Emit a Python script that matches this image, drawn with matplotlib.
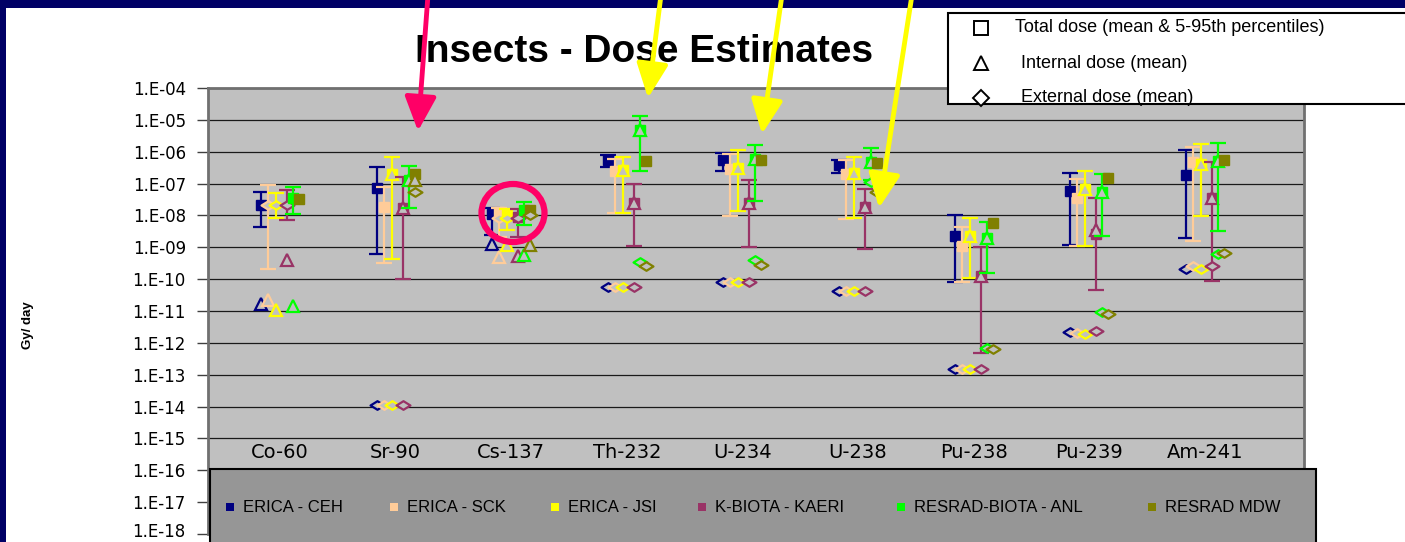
import numpy as np
import matplotlib
matplotlib.use("Agg")
import matplotlib.pyplot as plt
from matplotlib.patches import Rectangle, Ellipse, FancyArrowPatch
from matplotlib.lines import Line2D
from matplotlib.path import Path
from matplotlib.ticker import FixedLocator, FuncFormatter, NullLocator
from matplotlib.transforms import ScaledTranslation

nan = np.nan

nuclides = ["Co-60", "Sr-90", "Cs-137", "Th-232", "U-234", "U-238", "Pu-238", "Pu-239", "Am-241"]
models = ["ERICA - CEH", "ERICA - SCK", "ERICA - JSI", "K-BIOTA - KAERI",
          "RESRAD-BIOTA - ANL", "RESRAD MDW"]
colors = ["#000080", "#ffcc99", "#ffff00", "#993366", "#00ff00", "#808000"]

# Dose rates in Gy/day, one value per nuclide (nan = not shown)
total_ceh = [2.2e-8, 7.1e-8, 1.1e-8, 5.5e-7, 5.5e-7, 3.8e-7, 2.3e-9, 5.9e-8, 1.9e-7]
p05_ceh = [4.4e-9, 6.2e-10, 2.4e-9, 3.2e-7, 2.4e-7, 2.2e-7, 8e-11, 1.2e-9, 1.9e-9]
p95_ceh = [5.3e-8, 3.2e-7, 1.75e-8, 7.9e-7, 9.3e-7, 5.4e-7, 1e-8, 2.2e-7, 1.1e-6]
internal_ceh = [1.7e-11, nan, 1.25e-9, nan, nan, nan, nan, nan, nan]
external_ceh = [nan, 1.1e-14, nan, 5.8e-11, 8.3e-11, 4.3e-11, 1.5e-13, 2.2e-12, 2.1e-10]

total_sck = [nan, 1.9e-8, 1.3e-8, 2.5e-7, 2.8e-7, 1.95e-7, 1.1e-9, 3.6e-8, 4.9e-7]
p05_sck = [2.1e-10, 3.3e-10, 2.15e-9, 1.2e-8, 9.6e-9, 7.6e-9, 8e-11, 1.1e-9, 1.6e-9]
p95_sck = [9.1e-8, 7.6e-8, 1.75e-8, 6e-7, 8.5e-7, 5.5e-7, 4.2e-9, 1.35e-7, 1.4e-6]
internal_sck = [2.2e-11, nan, 5e-10, nan, nan, nan, nan, nan, nan]
external_sck = [2.2e-8, 1.1e-14, 8.5e-9, 5.8e-11, 8.3e-11, 4.3e-11, 1.5e-13, 2.0e-12, 2.5e-10]

total_jsi = [nan, 2e-7, 1e-8, 2.7e-7, 3e-7, 2.1e-7, 2.3e-9, 7e-8, 4.1e-7]
p05_jsi = [8.1e-9, 4.2e-10, 3.5e-9, 1.2e-8, 1.4e-8, 8.1e-9, 1.1e-10, 1.1e-9, 9.8e-9]
p95_jsi = [5e-8, 6.9e-7, 1.6e-8, 6.6e-7, 1.1e-6, 6.6e-7, 8.1e-9, 2.4e-7, 1.75e-6]
internal_jsi = [1.1e-11, 2e-7, 1.2e-9, 2.7e-7, 3e-7, 2.1e-7, 2.3e-9, 7e-8, 4.1e-7]
external_jsi = [2.2e-8, 1.1e-14, 8.3e-9, 5.8e-11, 8.3e-11, 4.3e-11, 1.5e-13, 1.85e-12, 2.1e-10]

total_kaeri = [nan, 1.7e-8, 9e-9, 2.5e-8, 2.5e-8, 1.9e-8, 1.3e-10, 2.6e-9, 3.6e-8]
p05_kaeri = [7.2e-9, 1e-10, 2.15e-9, 1.1e-9, 1.05e-9, 8.7e-10, 4.7e-13, 4.6e-11, 8.7e-11]
p95_kaeri = [6.3e-8, 1.6e-7, 1.6e-8, 9.5e-8, 1.3e-7, 6.8e-8, 1e-9, 3.5e-8, 4.9e-7]
internal_kaeri = [4e-10, 1.7e-8, 5.5e-10, 2.5e-8, 2.5e-8, 1.9e-8, 1.3e-10, 3.5e-9, 3.6e-8]
external_kaeri = [2.2e-8, 1.1e-14, 8.3e-9, 5.8e-11, 8.3e-11, 4.3e-11, 1.5e-13, 2.3e-12, 2.6e-10]

total_anl = [3.6e-8, 1.3e-7, 1.5e-8, 4.8e-6, 5.8e-7, 4.9e-7, 1.9e-9, 5.3e-8, 5.2e-7]
p05_anl = [1.1e-8, 1.7e-8, 5e-9, 2.4e-7, 2.9e-8, 1.3e-7, 1.6e-10, 2.2e-9, 3.2e-9]
p95_anl = [8e-8, 3.5e-7, 2.7e-8, 1.3e-5, 1.6e-6, 1.3e-6, 6.3e-9, 1.95e-7, 1.9e-6]
internal_anl = [1.4e-11, 1.3e-7, 5.7e-10, 4.8e-6, 5.8e-7, 4.9e-7, 1.9e-9, 5.3e-8, 5.2e-7]
external_anl = [nan, nan, nan, 3.5e-10, 4e-10, 1.15e-7, 6.8e-13, 9.1e-12, 6e-10]

total_mdw = [3.3e-8, 1.95e-7, 1.5e-8, 5.1e-7, 5.5e-7, 4.5e-7, 5.9e-9, 1.5e-7, 5.5e-7]
internal_mdw = [nan, 1.3e-7, 1.2e-9, nan, nan, nan, nan, nan, nan]
external_mdw = [nan, 5.3e-8, 1.03e-8, 2.5e-10, 2.8e-10, 5.6e-8, 6.3e-13, 8.1e-12, 6.5e-10]

series = [
    (total_ceh, p05_ceh, p95_ceh, internal_ceh, external_ceh),
    (total_sck, p05_sck, p95_sck, internal_sck, external_sck),
    (total_jsi, p05_jsi, p95_jsi, internal_jsi, external_jsi),
    (total_kaeri, p05_kaeri, p95_kaeri, internal_kaeri, external_kaeri),
    (total_anl, p05_anl, p95_anl, internal_anl, external_anl),
    (total_mdw, None, None, internal_mdw, external_mdw),
]

# ---------------------------------------------------------------- layout
W, H = 1405, 542
fig = plt.figure(figsize=(W / 100, H / 100), dpi=100, facecolor="white")


def fx(px):
    return px / W


def fy(py):
    return 1 - py / H


PLOT_BG = "#c0c0c0"
ax = fig.add_axes([fx(208), fy(534), fx(1304) - fx(208), fy(88) - fy(534)])
ax.set_facecolor(PLOT_BG)
ax.set_yscale("log")
ax.set_ylim(1e-18, 1e-4)
spacing_px = 115.6
ax.set_xlim((208 - 280) / spacing_px, (1304 - 280) / spacing_px)

decades = [10.0 ** e for e in range(-18, -3)]
ax.yaxis.set_major_locator(FixedLocator(decades))
ax.yaxis.set_minor_locator(NullLocator())
ax.yaxis.set_major_formatter(
    FuncFormatter(lambda v, p: "1.E{:03d}".format(int(round(np.log10(v))))))
ax.tick_params(axis="y", direction="out", length=8, width=1, color="#404040",
               labelsize=12, pad=8, labelcolor="black")
for lab in ax.get_yticklabels():
    lab.set_family("DejaVu Sans")
# keep the lowest label inside the canvas
low_tick = ax.yaxis.get_major_ticks()[0]
low_tick.label1.set_transform(low_tick.label1.get_transform()
                              + ScaledTranslation(0, 4 / 100, fig.dpi_scale_trans))
ax.set_xticks([])
ax.grid(axis="y", which="major", color="#1a1a1a", lw=0.9)
ax.set_axisbelow(True)

for side in ["left", "top", "right"]:
    ax.spines[side].set_color("#707070")
    ax.spines[side].set_linewidth(2)
ax.spines["bottom"].set_visible(False)

# category labels along the lower part of the plot area
label_y = (534 - 453) / (534 - 88)
for i, name in enumerate(nuclides):
    ax.text(i, label_y, name, transform=ax.get_xaxis_transform(), ha="center",
            va="center", fontsize=14, family="DejaVu Sans")

# ---------------------------------------------------------------- data marks
offsets_px = [-19, -12, -4, 7, 13, 19]
x_idx = np.arange(len(nuclides))
wide_diamond = Path([(-1, 0), (0, 0.62), (1, 0), (0, -0.62), (-1, 0)],
                    [Path.MOVETO, Path.LINETO, Path.LINETO, Path.LINETO, Path.CLOSEPOLY])

for k, (tot, lo, hi, inn, ext) in enumerate(series):
    c = colors[k]
    xs = x_idx + offsets_px[k] / spacing_px
    z = 3 + k * 0.1
    if lo is not None:
        lo_a = np.array(lo)
        hi_a = np.array(hi)
        ax.errorbar(xs, lo_a, yerr=[np.zeros_like(lo_a), hi_a - lo_a], fmt="none",
                    ecolor=c, elinewidth=1.6, capsize=5.8, capthick=1.6, zorder=z)
    ax.plot(xs, tot, ls="none", marker="s", ms=7.5, mfc=c, mec=c, zorder=z + 0.01)
    ax.plot(xs, inn, ls="none", marker="^", ms=8.5, mfc=PLOT_BG, mec=c, mew=1.6,
            zorder=z + 0.02)
    ax.plot(xs, ext, ls="none", marker=wide_diamond, ms=10, mfc=PLOT_BG, mec=c, mew=1.6,
            zorder=z + 0.03)

# ---------------------------------------------------------------- decorations
fig.patches.append(Rectangle((0, fy(8)), 1, 1 - fy(8), transform=fig.transFigure,
                             facecolor="#000066", edgecolor="none", zorder=0))
fig.patches.append(Rectangle((0, 0), fx(6), 1, transform=fig.transFigure,
                             facecolor="#000066", edgecolor="none", zorder=0))

fig.text(fx(644), fy(52), "Insects - Dose Estimates", ha="center", va="center",
         fontsize=28, fontweight="bold", family="Liberation Sans")
fig.text(fx(28), fy(325), "Gy/ day", ha="center", va="center", rotation=90,
         fontsize=9.5, fontweight="bold", family="Liberation Sans")

# dose-type key (top right)
fig.patches.append(Rectangle((fx(948), fy(104)), fx(1420) - fx(948), fy(13) - fy(104),
                             transform=fig.transFigure, facecolor="white",
                             edgecolor="black", lw=1.5, zorder=5))
key_items = [("s", "Total dose (mean & 5-95th percentiles)", 28, 1015),
             ("^", "Internal dose (mean)", 63, 1021),
             ("D", "External dose (mean)", 98, 1021)]
for mk, label, ypx, xt in key_items:
    fig.add_artist(Line2D([fx(981)], [fy(ypx)], transform=fig.transFigure, ls="none",
                          marker=mk, ms=10 if mk != "D" else 8, mfc="white", mec="black",
                          mew=1.4, zorder=6))
    fig.text(fx(xt), fy(ypx), label, ha="left", va="center", fontsize=13,
             family="Liberation Sans", zorder=6)

# model key (bottom)
fig.patches.append(Rectangle((fx(210), fy(548)), fx(1316) - fx(210), fy(469) - fy(548),
                             transform=fig.transFigure, facecolor="#969696",
                             edgecolor="black", lw=1.5, zorder=5))
key_x = [230, 394, 555, 702, 901, 1152]
for k, name in enumerate(models):
    fig.patches.append(Rectangle((fx(key_x[k] - 4), fy(511)), fx(8), fy(503) - fy(511),
                                 transform=fig.transFigure, facecolor=colors[k],
                                 edgecolor="none", zorder=6))
    fig.text(fx(key_x[k] + 13), fy(507), name, ha="left", va="center", fontsize=12,
             family="Liberation Sans", zorder=6)

# highlight ring and pointer arrows
fig.add_artist(Ellipse((fx(513), fy(213)), fx(63), fy(0) - fy(58),
                       transform=fig.transFigure, facecolor="none",
                       edgecolor="#ff0066", lw=4.5, zorder=8))
arrows = [((428, -5), (418, 131), "#ff0066"),
          ((661, -5), (648, 98), "#ffff00"),
          ((782, -5), (762, 134), "#ffff00"),
          ((912, -5), (879, 208), "#ffff00")]
for (x0, y0), (x1, y1), col in arrows:
    fig.add_artist(FancyArrowPatch((fx(x0), fy(y0)), (fx(x1), fy(y1)),
                                   transform=fig.transFigure,
                                   arrowstyle="-|>,head_length=1.3,head_width=0.6",
                                   mutation_scale=16, lw=3.5, color=col,
                                   shrinkA=0, shrinkB=0, zorder=9))

fig.savefig("out.png", dpi=100, facecolor="white")
